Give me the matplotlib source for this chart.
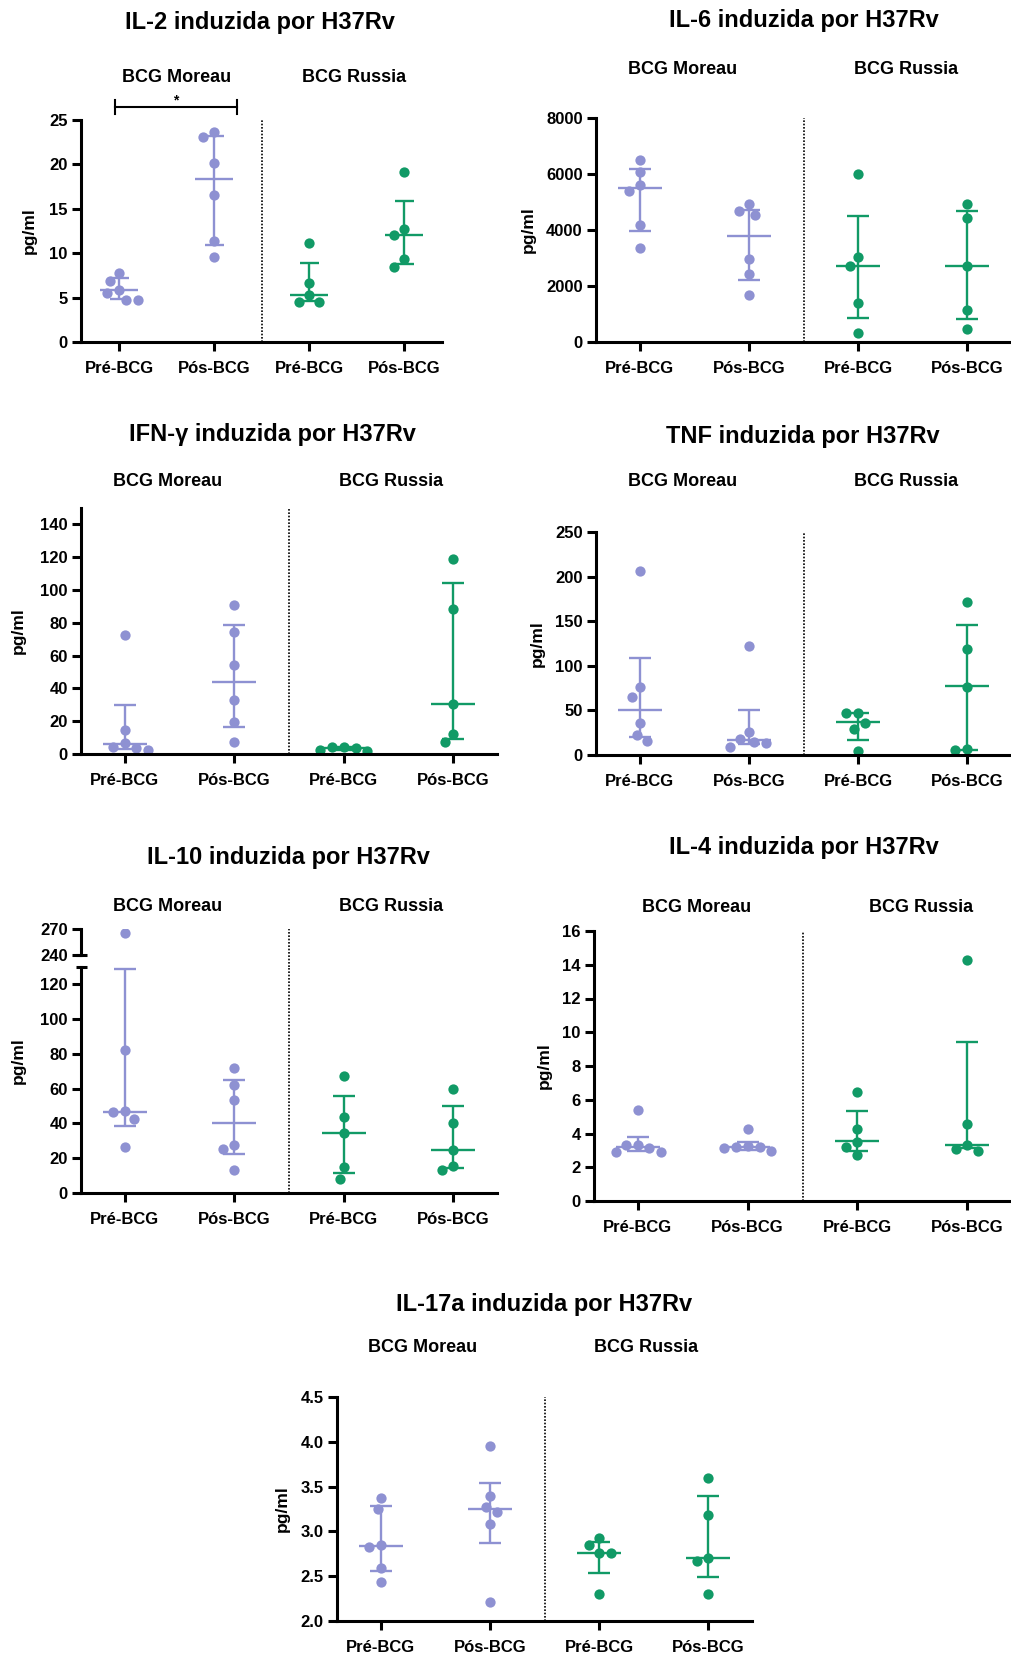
import numpy as np
import matplotlib
matplotlib.use("Agg")
import matplotlib.pyplot as plt
from matplotlib.lines import Line2D

plt.rcParams['font.family'] = ['Liberation Sans', 'DejaVu Sans']
plt.rcParams['font.weight'] = 'bold'

W, H = 1011, 1659
PURPLE = '#8E91D2'
GREEN = '#119A66'
colors = [PURPLE, PURPLE, GREEN, GREEN]

groups = ["Pré-BCG", "Pós-BCG", "Pré-BCG", "Pós-BCG"]
strains = ["BCG Moreau", "BCG Russia"]

# values: points per group, median and interquartile range
il2_vals = [[5.8, 6.9, 7.8, 5.5, 4.7, 4.7], [23.1, 23.7, 20.2, 16.6, 11.4, 9.6],
            [5.3, 6.7, 11.1, 4.5, 4.5], [19.1, 12.7, 12.0, 9.3, 8.5]]
il2_med = [5.8, 18.4, 5.3, 12.0]
il2_lo = [4.8, 10.9, 4.6, 8.8]
il2_hi = [7.2, 23.2, 8.9, 15.9]

il6_vals = [[6065, 6507, 5600, 5397, 4179, 3367], [4669, 4919, 4549, 2973, 2412, 1672],
            [6006, 3033, 2710, 1397, 310], [4919, 4418, 2722, 1158, 466]]
il6_med = [5493, 3773, 2698, 2722]
il6_lo = [3976, 2221, 860, 812]
il6_hi = [6185, 4716, 4501, 4680]

ifn_vals = [[6.5, 4.3, 72.8, 14.9, 3.5, 2.6], [90.8, 74.5, 54.5, 32.8, 19.7, 7.1],
            [4.5, 4.1, 3.7, 2.6, 2.0], [118.8, 88.5, 30.5, 12.2, 7.1]]
ifn_med = [5.9, 44.0, 3.7, 30.5]
ifn_lo = [3.3, 16.3, 2.3, 9.4]
ifn_hi = [29.7, 78.6, 4.3, 104.2]

tnf_vals = [[206, 75.7, 65.3, 35.4, 22.4, 15.7], [122, 26.1, 17.5, 14.2, 13.4, 9.3],
            [47.4, 46.6, 36.2, 29.5, 4.5], [172, 119, 76.5, 7.1, 5.2]]
tnf_med = [50.0, 16.8, 36.6, 76.9]
tnf_lo = [20.5, 12.5, 16.8, 5.6]
tnf_hi = [108.6, 50.4, 47.4, 145.5]

il10_vals = [[265.8, 82.5, 47.0, 46.6, 42.8, 26.3], [71.8, 62.4, 53.3, 27.8, 25.5, 13.2],
             [67.4, 43.6, 34.5, 14.8, 8.3], [59.9, 40.3, 24.6, 15.4, 13.0]]
il10_med = [46.8, 40.3, 34.5, 24.6]
il10_lo = [38.4, 22.5, 11.3, 14.2]
il10_hi = [128.6, 64.9, 55.7, 50.3]

il4_vals = [[5.38, 3.31, 3.31, 3.12, 2.92, 2.92], [4.28, 3.25, 3.21, 3.18, 3.12, 2.98],
            [6.47, 4.24, 3.49, 3.21, 2.72], [14.28, 4.58, 3.31, 3.08, 2.98]]
il4_med = [3.2, 3.2, 3.55, 3.31]
il4_lo = [2.98, 3.02, 2.98, 3.12]
il4_hi = [3.8, 3.47, 5.33, 9.43]

il17_vals = [[3.376, 3.246, 2.852, 2.826, 2.595, 2.435], [3.953, 3.399, 3.272, 3.217, 3.086, 2.208],
             [2.923, 2.852, 2.759, 2.759, 2.305], [3.596, 3.187, 2.699, 2.666, 2.305]]
il17_med = [2.84, 3.254, 2.763, 2.699]
il17_lo = [2.554, 2.867, 2.532, 2.49]
il17_hi = [3.28, 3.54, 2.878, 3.39]

fig = plt.figure(figsize=(W / 100, H / 100), dpi=100)


def px_ax(l, t, r, b):
    return fig.add_axes([l / W, 1 - b / H, (r - l) / W, (b - t) / H])


def ftext(x, y, s, **kw):
    fig.text(x / W, 1 - y / H, s, ha='center', va='center', **kw)


def fline(xs, ys, **kw):
    fig.add_artist(Line2D([x / W for x in xs], [1 - y / H for y in ys],
                          transform=fig.transFigure, **kw))


def swarm(vals, xppu, yppu, d=12.0):
    # simple beeswarm in pixel space
    placed = []
    out = np.zeros(len(vals))
    for i in np.argsort(vals)[::-1]:
        y = vals[i] * yppu
        cands = [0.0]
        for px, py in placed:
            dy = abs(py - y)
            if dy < d:
                dx = np.sqrt(d * d - dy * dy)
                cands += [px - dx, px + dx]
        cands.sort(key=abs)
        for c in cands:
            if all((c - px) ** 2 + (y - py) ** 2 >= d * d - 1e-6 for px, py in placed):
                break
        placed.append((c, y))
        out[i] = c / xppu
    return out


def style(ax, ylim, ticks, fmt="%g", xaxis=True):
    ax.set_xlim(-0.4, 3.4)
    ax.set_ylim(*ylim)
    ax.patch.set_alpha(0)
    for s in ['top', 'right']:
        ax.spines[s].set_visible(False)
    for s in ['left', 'bottom']:
        ax.spines[s].set_linewidth(2.2)
    ax.tick_params(width=2.2, length=6.5, labelsize=12, pad=3, colors='black')
    ax.set_yticks(ticks)
    ax.set_yticklabels([fmt % t for t in ticks])
    if xaxis:
        ax.set_xticks(range(4))
        ax.set_xticklabels(groups)
        ax.tick_params(axis='x', pad=7)
    else:
        ax.spines['bottom'].set_visible(False)
        ax.set_xticks([])


def draw(ax, vals, med, lo, hi, box, ylim):
    l, t, r, b = box
    xppu = (r - l) / 3.8
    yppu = (b - t) / (ylim[1] - ylim[0])
    for i in range(4):
        c = colors[i]
        v = np.array(vals[i])
        off = swarm(v, xppu, yppu)
        ax.plot(i + off, v, 'o', ms=7.4, color=c, mec='none', zorder=2)
        kw = dict(color=c, lw=1.7, solid_capstyle='butt', zorder=3)
        ax.plot([i - 0.2, i + 0.2], [med[i], med[i]], **kw)
        ax.plot([i, i], [lo[i], hi[i]], **kw)
        ax.plot([i - 0.1, i + 0.1], [lo[i], lo[i]], **kw)
        ax.plot([i - 0.1, i + 0.1], [hi[i], hi[i]], **kw)
    ax.axvline(1.5, color='black', ls=(0, (1, 1)), lw=1.2, zorder=1)


def labels(title, tpos, ylx, box, gy, gx):
    ftext(tpos[0], tpos[1], title, fontsize=17, fontweight='bold')
    ftext(ylx, (box[1] + box[3]) / 2, "pg/ml", fontsize=12.5, fontweight='bold', rotation=90)
    for s, x in zip(strains, gx):
        ftext(x, gy, s, fontsize=13, fontweight='bold')


panels = [
    ("IL-2 induzida por H37Rv", il2_vals, il2_med, il2_lo, il2_hi, (81, 120, 442, 342),
     (0, 25), [0, 5, 10, 15, 20, 25], "%g", (260, 23), 29, 77, (177, 354)),
    ("IL-6 induzida por H37Rv", il6_vals, il6_med, il6_lo, il6_hi, (596, 118, 1011, 342),
     (0, 8000), [0, 2000, 4000, 6000, 8000], "%g", (804, 20), 528, 70, (683, 906)),
    ("IFN-γ induzida por H37Rv", ifn_vals, ifn_med, ifn_lo, ifn_hi, (81, 508, 497, 754),
     (0, 150), [0, 20, 40, 60, 80, 100, 120, 140], "%g", (272, 435), 18, 482, (168, 391)),
    ("TNF induzida por H37Rv", tnf_vals, tnf_med, tnf_lo, tnf_hi, (596, 532, 1011, 755),
     (0, 250), [0, 50, 100, 150, 200, 250], "%g", (803, 436), 537, 482, (683, 906)),
    ("IL-4 induzida por H37Rv", il4_vals, il4_med, il4_lo, il4_hi, (594, 931, 1011, 1201),
     (0, 16), [0, 2, 4, 6, 8, 10, 12, 14, 16], "%g", (804, 848), 544, 908, (697, 921)),
    ("IL-17a induzida por H37Rv", il17_vals, il17_med, il17_lo, il17_hi, (337, 1397, 752, 1621),
     (2.0, 4.5), [2.0, 2.5, 3.0, 3.5, 4.0, 4.5], "%.1f", (544, 1305), 282, 1348, (423, 646)),
]

for title, vals, med, lo, hi, box, ylim, ticks, fmt, tpos, ylx, gy, gx in panels:
    ax = px_ax(*box)
    style(ax, ylim, ticks, fmt)
    draw(ax, vals, med, lo, hi, box, ylim)
    labels(title, tpos, ylx, box, gy, gx)

# IL-10 with a broken y axis
up_box = (81, 929, 497, 955)
lo_box = (81, 967, 497, 1193)
ax_up = px_ax(*up_box)
ax_lo = px_ax(*lo_box)
style(ax_up, (240, 270), [240, 270], xaxis=False)
style(ax_lo, (0, 130), [0, 20, 40, 60, 80, 100, 120])
draw(ax_lo, il10_vals, il10_med, il10_lo, il10_hi, lo_box, (0, 130))
draw(ax_up, il10_vals, il10_med, il10_lo, il10_hi, lo_box, (0, 130))
ax_up.lines[-1].remove()
ax_up.axvline(1.5, ymin=-12 / 26, ymax=1, color='black', ls=(0, (1, 1)), lw=1.2, clip_on=False)
for a, yv in [(ax_lo, 130), (ax_up, 240)]:
    a.plot([-0.012, 0.0145], [yv, yv], color='black', lw=2.2, transform=a.get_yaxis_transform(),
           clip_on=False, solid_capstyle='butt')
labels("IL-10 induzida por H37Rv", (288, 858), 18, (81, 929, 497, 1193), 906, (168, 391))

# significance bracket on IL-2
fline([115, 237], [107, 107], color='black', lw=1.5)
fline([115, 115], [100, 114], color='black', lw=1.5)
fline([237, 237], [100, 114], color='black', lw=1.5)
ftext(176, 100, "*", fontsize=10, fontweight='bold')

fig.savefig("out.png", dpi=100)
